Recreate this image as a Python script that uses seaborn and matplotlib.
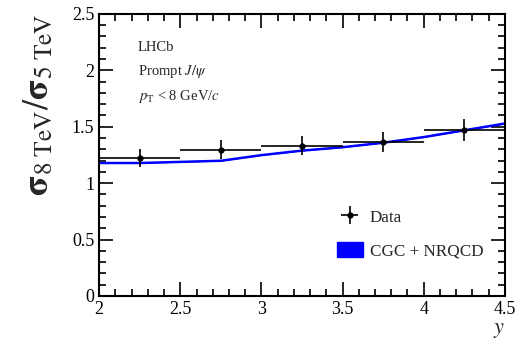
import numpy as np
import pandas as pd
import matplotlib
matplotlib.use("Agg")
import matplotlib.pyplot as plt
import seaborn as sns
from matplotlib.ticker import MultipleLocator, FuncFormatter
from matplotlib.patches import Patch

# Data points
y_centers = [2.25, 2.75, 3.25, 3.75, 4.25]
y_halfwidth = [0.25, 0.25, 0.25, 0.25, 0.25]
ratio = [1.22, 1.295, 1.33, 1.365, 1.47]
ratio_err = [0.08, 0.085, 0.085, 0.09, 0.095]

# CGC + NRQCD prediction
cgc_y = [2.0, 2.25, 2.5, 2.75, 3.0, 3.25, 3.5, 3.75, 4.0, 4.25, 4.5]
cgc_ratio = [1.18, 1.18, 1.19, 1.20, 1.25, 1.29, 1.32, 1.36, 1.41, 1.47, 1.53]

sns.set_theme(style="ticks")
plt.rcParams['font.family'] = ['Liberation Serif', 'DejaVu Serif']
plt.rcParams['mathtext.fontset'] = 'stix'

fig = plt.figure(figsize=(5.22, 3.47), dpi=100)
ax = fig.add_axes([0.19, 0.147, 0.777, 0.813])

df = pd.DataFrame({"y": cgc_y, "r": cgc_ratio})
ax.fill_between(cgc_y, np.array(cgc_ratio) - 0.008, np.array(cgc_ratio) + 0.008,
                color="blue", lw=0)
sns.lineplot(data=df, x="y", y="r", ax=ax, color="blue", lw=1.5)

data_h = ax.errorbar(y_centers, ratio, xerr=y_halfwidth, yerr=ratio_err, fmt='o',
                     color='black', ms=3.5, lw=1.2, capsize=0)

ax.set_xlim(2, 4.5)
ax.set_ylim(0, 2.5)
fmt = FuncFormatter(lambda v, p: '%g' % v)
ax.xaxis.set_major_locator(MultipleLocator(0.5))
ax.xaxis.set_minor_locator(MultipleLocator(0.1))
ax.yaxis.set_major_locator(MultipleLocator(0.5))
ax.yaxis.set_minor_locator(MultipleLocator(0.1))
ax.xaxis.set_major_formatter(fmt)
ax.yaxis.set_major_formatter(fmt)
ax.tick_params(which='both', direction='in', top=True, right=True, labelsize=13,
               colors='black', width=1.2)
ax.tick_params(which='major', length=10)
ax.tick_params(which='minor', length=5)
for s in ax.spines.values():
    s.set_linewidth(1.5)
    s.set_color('black')

ax.set_xlabel(r'$y$', fontsize=16, loc='right', labelpad=2)
ax.set_ylabel(r'$\mathbf{\sigma}_{8\ \mathrm{TeV}}/\mathbf{\sigma}_{5\ \mathrm{TeV}}$',
              fontsize=26, loc='top')
ax.yaxis.set_label_coords(-0.105, 1.0)

ax.text(0.095, 0.882, 'LHCb', transform=ax.transAxes, fontsize=10.5, va='center')
ax.text(0.095, 0.797, r'Prompt $J/\psi$', transform=ax.transAxes, fontsize=10.5, va='center')
ax.text(0.095, 0.707, r'$p_{\mathrm{T}}$ < 8 GeV/$c$', transform=ax.transAxes, fontsize=10.5, va='center')

handles = [data_h, Patch(facecolor='blue', edgecolor='blue')]
leg = ax.legend(handles, ['Data', 'CGC + NRQCD'], loc='lower right',
                bbox_to_anchor=(0.985, 0.075), frameon=False, fontsize=12.3,
                handlelength=1.55, handleheight=1.0, labelspacing=0.95,
                handletextpad=0.4)

fig.savefig("out.png", dpi=100)
